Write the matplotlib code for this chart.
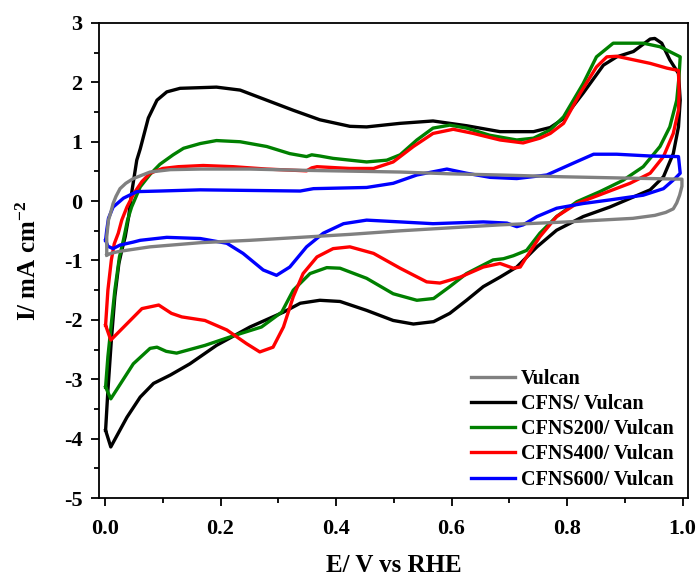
import matplotlib
matplotlib.use('Agg')
import matplotlib.pyplot as plt
from matplotlib.ticker import MultipleLocator

# CV loops: anodic sweep (0 -> 1 V) followed by cathodic sweep (1 -> 0 V)
vulcan_E = [0.003, 0.003, 0.006, 0.010, 0.014, 0.019, 0.026, 0.036, 0.049, 0.078, 0.113, 0.165,
            0.251, 0.338, 0.424, 0.511, 0.597, 0.684, 0.793, 0.892, 0.999,
            0.999, 0.995, 0.990, 0.984, 0.971, 0.952, 0.914, 0.857, 0.800, 0.684, 0.597, 0.511,
            0.424, 0.338, 0.251, 0.165, 0.078, 0.043, 0.023, 0.010, 0.003]
vulcan_I = [-0.90, -0.60, -0.32, -0.19, -0.04, 0.08, 0.21, 0.30, 0.38, 0.49, 0.53, 0.54,
            0.54, 0.52, 0.505, 0.49, 0.46, 0.44, 0.41, 0.39, 0.37,
            0.25, 0.10, -0.03, -0.13, -0.19, -0.24, -0.29, -0.32, -0.35, -0.40, -0.45, -0.50,
            -0.56, -0.61, -0.66, -0.70, -0.77, -0.82, -0.85, -0.88, -0.91]

cfns_E = [0.001, 0.005, 0.011, 0.017, 0.024, 0.029, 0.035, 0.041, 0.046, 0.055, 0.061, 0.075,
          0.090, 0.107, 0.130, 0.193, 0.234, 0.280, 0.326, 0.372, 0.424, 0.453, 0.511, 0.568,
          0.626, 0.684, 0.742, 0.771, 0.794, 0.828, 0.863, 0.886, 0.915, 0.944, 0.952, 0.964,
          0.978, 0.993,
          0.996, 0.993, 0.984, 0.967, 0.944, 0.915, 0.874, 0.828, 0.782, 0.748, 0.713, 0.684,
          0.655, 0.626, 0.597, 0.569, 0.534, 0.499, 0.453, 0.407, 0.372, 0.338, 0.309, 0.251,
          0.193, 0.147, 0.113, 0.084, 0.061, 0.038, 0.010, 0.001]
cfns_I = [-3.86, -3.19, -2.34, -1.61, -1.05, -0.83, -0.60, -0.26, 0.13, 0.69, 0.88, 1.40,
          1.70, 1.84, 1.90, 1.92, 1.87, 1.70, 1.53, 1.37, 1.26, 1.25, 1.31, 1.35,
          1.27, 1.17, 1.17, 1.24, 1.39, 1.82, 2.29, 2.43, 2.52, 2.73, 2.74, 2.66,
          2.38, 2.15,
          1.70, 1.25, 0.80, 0.41, 0.19, 0.07, -0.10, -0.26, -0.49, -0.77, -1.11, -1.28,
          -1.44, -1.67, -1.89, -2.03, -2.07, -2.01, -1.84, -1.69, -1.67, -1.72, -1.87, -2.12,
          -2.43, -2.74, -2.93, -3.07, -3.30, -3.64, -4.14, -3.86]

cfns200_E = [0.001, 0.005, 0.011, 0.017, 0.025, 0.032, 0.039, 0.046, 0.061, 0.078, 0.095, 0.118,
             0.136, 0.165, 0.193, 0.234, 0.280, 0.320, 0.349, 0.358, 0.372, 0.395, 0.424, 0.453,
             0.488, 0.511, 0.540, 0.568, 0.597, 0.626, 0.666, 0.713, 0.742, 0.771, 0.794, 0.828,
             0.851, 0.880, 0.932, 0.961, 0.996,
             0.994, 0.990, 0.978, 0.961, 0.932, 0.897, 0.857, 0.817, 0.782, 0.753, 0.730, 0.707,
             0.690, 0.672, 0.626, 0.597, 0.569, 0.540, 0.499, 0.453, 0.407, 0.384, 0.355, 0.326,
             0.306, 0.271, 0.225, 0.173, 0.124, 0.106, 0.090, 0.078, 0.049, 0.010, 0.001]
cfns200_I = [-3.13, -2.62, -2.06, -1.50, -0.94, -0.65, -0.32, -0.10, 0.24, 0.45, 0.62, 0.78,
             0.89, 0.97, 1.02, 1.00, 0.92, 0.80, 0.75, 0.78, 0.76, 0.72, 0.69, 0.66,
             0.69, 0.78, 1.03, 1.23, 1.28, 1.23, 1.11, 1.03, 1.06, 1.20, 1.42, 1.98,
             2.43, 2.66, 2.66, 2.60, 2.43,
             2.10, 1.70, 1.25, 0.92, 0.58, 0.35, 0.16, -0.01, -0.26, -0.54, -0.83, -0.92,
             -0.97, -0.99, -1.22, -1.44, -1.64, -1.67, -1.56, -1.30, -1.13, -1.12, -1.22, -1.50,
             -1.87, -2.12, -2.26, -2.43, -2.56, -2.53, -2.46, -2.48, -2.74, -3.33, -3.13]

cfns400_E = [0.001, 0.005, 0.011, 0.016, 0.023, 0.029, 0.038, 0.050, 0.064, 0.078, 0.100, 0.127,
             0.170, 0.222, 0.280, 0.349, 0.358, 0.367, 0.424, 0.465, 0.499, 0.534, 0.568, 0.603,
             0.638, 0.684, 0.724, 0.753, 0.771, 0.794, 0.823, 0.851, 0.869, 0.886, 0.915, 0.944,
             0.973, 0.993,
             0.994, 0.993, 0.984, 0.967, 0.944, 0.909, 0.863, 0.817, 0.782, 0.753, 0.730, 0.719,
             0.707, 0.684, 0.655, 0.615, 0.580, 0.557, 0.511, 0.465, 0.424, 0.395, 0.367, 0.343,
             0.326, 0.309, 0.291, 0.268, 0.245, 0.211, 0.173, 0.133, 0.115, 0.093, 0.064, 0.010,
             0.001]
cfns400_I = [-2.09, -1.50, -0.99, -0.72, -0.54, -0.32, -0.10, 0.13, 0.33, 0.47, 0.55, 0.58,
             0.60, 0.58, 0.54, 0.51, 0.56, 0.58, 0.55, 0.55, 0.66, 0.92, 1.14, 1.21,
             1.14, 1.03, 0.98, 1.06, 1.14, 1.31, 1.82, 2.26, 2.43, 2.44, 2.38, 2.32,
             2.24, 2.20,
             1.82, 1.53, 1.14, 0.75, 0.47, 0.30, 0.13, -0.04, -0.26, -0.60, -0.94, -1.11,
             -1.13, -1.05, -1.11, -1.28, -1.38, -1.36, -1.13, -0.88, -0.77, -0.80, -0.94, -1.22,
             -1.61, -2.12, -2.46, -2.54, -2.40, -2.17, -2.01, -1.95, -1.89, -1.75, -1.81, -2.34,
             -2.09]

cfns600_E = [0.001, 0.003, 0.006, 0.014, 0.032, 0.055, 0.095, 0.165, 0.338, 0.361, 0.453, 0.499,
             0.540, 0.592, 0.626, 0.667, 0.713, 0.765, 0.811, 0.846, 0.886, 0.944, 0.993,
             0.996, 0.987, 0.967, 0.932, 0.874, 0.828, 0.782, 0.748, 0.724, 0.713, 0.696, 0.655,
             0.568, 0.511, 0.453, 0.413, 0.378, 0.349, 0.320, 0.297, 0.274, 0.239, 0.211, 0.165,
             0.107, 0.061, 0.049, 0.026, 0.014, 0.005, 0.001]
cfns600_I = [-0.66, -0.49, -0.29, -0.10, 0.05, 0.16, 0.17, 0.19, 0.17, 0.21, 0.23, 0.30,
             0.44, 0.54, 0.47, 0.40, 0.38, 0.44, 0.64, 0.79, 0.79, 0.76, 0.75,
             0.47, 0.38, 0.21, 0.10, 0.02, -0.04, -0.12, -0.26, -0.40, -0.43, -0.37, -0.35,
             -0.38, -0.35, -0.32, -0.38, -0.54, -0.77, -1.11, -1.25, -1.16, -0.88, -0.71, -0.63,
             -0.61, -0.66, -0.69, -0.74, -0.80, -0.76, -0.66]

labels = ['Vulcan', 'CFNS/ Vulcan', 'CFNS200/ Vulcan', 'CFNS400/ Vulcan', 'CFNS600/ Vulcan']
colors = ['#808080', '#000000', '#008000', '#ff0000', '#0000ff']

plt.rcParams['font.family'] = 'Liberation Serif'
plt.rcParams['font.weight'] = 'bold'
plt.rcParams['axes.labelweight'] = 'bold'
plt.rcParams['axes.unicode_minus'] = False
plt.rcParams['mathtext.fontset'] = 'custom'
plt.rcParams['mathtext.rm'] = 'Liberation Serif:bold'
plt.rcParams['mathtext.bf'] = 'Liberation Serif:bold'
plt.rcParams['mathtext.default'] = 'bf'

fig = plt.figure(figsize=(6.99, 5.77), dpi=100)
ax = fig.add_axes([99 / 699, 79 / 577, 589 / 699, 475 / 577])

data = [(vulcan_E, vulcan_I), (cfns_E, cfns_I), (cfns200_E, cfns200_I),
        (cfns400_E, cfns400_I), (cfns600_E, cfns600_I)]
handles = [None] * 5
# draw order: black, green, red, blue, then gray on top
for idx in [1, 2, 3, 4, 0]:
    E, I = data[idx]
    h, = ax.plot(E, I, color=colors[idx], lw=2.4, label=labels[idx], solid_joinstyle='round')
    handles[idx] = h

ax.set_xlim(-0.0104, 1.0095)
ax.set_ylim(-5, 3)
ax.xaxis.set_major_locator(MultipleLocator(0.2))
ax.xaxis.set_minor_locator(MultipleLocator(0.1))
ax.yaxis.set_major_locator(MultipleLocator(1))
ax.yaxis.set_minor_locator(MultipleLocator(0.5))
ax.xaxis.set_major_formatter(plt.FuncFormatter(lambda v, p: '%.1f' % v))
ax.yaxis.set_major_formatter(plt.FuncFormatter(lambda v, p: '%d' % round(v)))

ax.tick_params(which='both', direction='out', top=False, right=False, width=1.3)
ax.tick_params(which='major', length=6, labelsize=16)
ax.tick_params(which='minor', length=3.5)
ax.tick_params(axis='x', which='major', pad=9)
ax.tick_params(axis='y', which='major', pad=6)
for s in ax.spines.values():
    s.set_linewidth(1.3)

ax.set_xlabel('E/ V vs RHE', fontsize=18, labelpad=11)
ax.set_ylabel(r'I/ mA cm$^{-2}$', fontsize=18, labelpad=16)

ax.legend(handles=handles, loc='lower right', bbox_to_anchor=(1.0, -0.012), frameon=False,
          fontsize=14.5, handlelength=2.2, handletextpad=0.3, labelspacing=0.26,
          borderaxespad=0.3)

fig.savefig('out.png', dpi=100)
